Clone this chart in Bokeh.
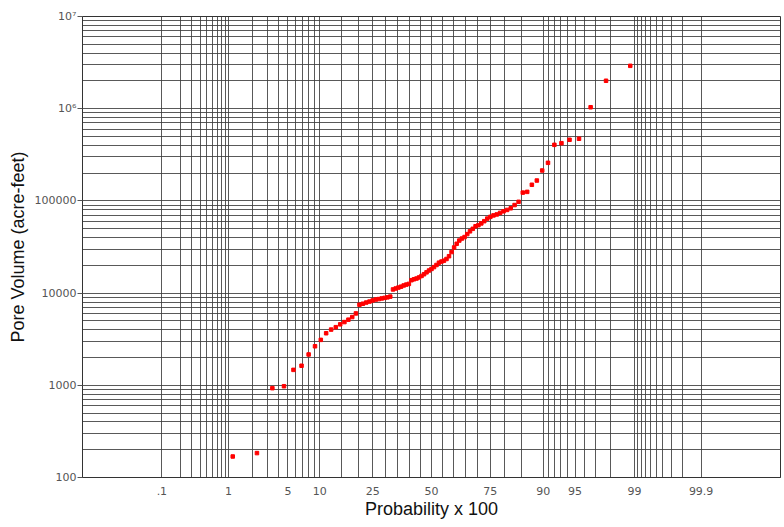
from statistics import NormalDist
from bokeh.plotting import figure
from bokeh.models import FixedTicker, CustomJSTickFormatter, Range1d
from bokeh.embed import file_html
from bokeh.resources import INLINE

# Pore volume (acre-feet), sorted ascending
pore_volume = [
    169, 184, 931, 977, 1470, 1630, 2160, 2650, 3110, 3670,
    4020, 4270, 4580, 4850, 5150, 5500, 6020, 7480, 7670, 7900,
    8090, 8320, 8510, 8610, 8750, 8870, 8990, 9160, 10960, 11220,
    11480, 11750, 12100, 12360, 12590, 13800, 14130, 14390, 14790, 15350,
    16030, 16790, 17580, 18280, 19140, 20180, 21380, 21980, 22490, 23440,
    25120, 27860, 31260, 34280, 37150, 39080, 40550, 43650, 46770, 49770,
    53090, 54580, 57020, 60260, 64270, 67140, 69660, 71290, 74130, 77090,
    79800, 83180, 90160, 97720, 123000, 125300, 149600, 166300, 213800, 258800,
    405500, 422700, 460300, 472000, 1037000, 2009000, 2917000,
]

# probability grid (percent) and labelled probabilities
grid_probs = [0.1, 0.2, 0.3, 0.4, 0.5, 0.6, 0.7, 0.8, 0.9,
              1, 2, 3, 4, 5, 6, 7, 8, 9, 10,
              15, 20, 25, 30, 35, 40, 45, 50, 55, 60, 65, 70, 75, 80, 85,
              90, 91, 92, 93, 94, 95, 96, 97, 98, 99,
              99.1, 99.2, 99.3, 99.4, 99.5, 99.6, 99.7, 99.8, 99.9]
label_probs = [0.1, 1, 5, 10, 25, 50, 75, 90, 95, 99, 99.9]
label_texts = [".1", "1", "5", "10", "25", "50", "75", "90", "95", "99", "99.9"]

y_major = [1e2, 1e3, 1e4, 1e5, 1e6, 1e7]
y_labels = ["100", "1000", "10000", "100000", "10\u2076", "10\u2077"]
y_minor = [m * d for d in [1e2, 1e3, 1e4, 1e5, 1e6] for m in range(2, 10)]

nd = NormalDist()
n = len(pore_volume)
# Weibull plotting positions i/(n+1), transformed to normal quantiles
zpos = [nd.inv_cdf(i / (n + 1)) for i in range(1, n + 1)]
grid_z = [nd.inv_cdf(pp / 100.0) for pp in grid_probs]
all_labels = []
for pp in grid_probs:
    all_labels.append(label_texts[label_probs.index(pp)] if pp in label_probs else "")

p = figure(width=782, height=521, output_backend="svg", toolbar_location=None,
           y_axis_type="log",
           x_range=Range1d(-4.0, 4.0), y_range=Range1d(100, 1e7),
           min_border_left=82, min_border_right=2, min_border_top=16, min_border_bottom=40)
p.background_fill_color = "white"
p.border_fill_color = "white"
p.outline_line_color = "#333333"

xt = FixedTicker(ticks=grid_z)
p.xaxis.ticker = xt
p.xgrid.ticker = xt
p.xaxis.formatter = CustomJSTickFormatter(args=dict(zs=grid_z, labels=all_labels), code="""
for (let i = 0; i < zs.length; i++) { if (Math.abs(zs[i] - tick) < 1e-6) return labels[i]; }
return '';
""")
yt = FixedTicker(ticks=y_major, minor_ticks=y_minor)
p.yaxis.ticker = yt
p.ygrid.ticker = yt
p.yaxis.formatter = CustomJSTickFormatter(args=dict(vals=y_major, labels=y_labels), code="""
for (let i = 0; i < vals.length; i++) { if (Math.abs(vals[i] - tick) / vals[i] < 1e-6) return labels[i]; }
return '';
""")

for g in (p.xgrid, p.ygrid):
    g.grid_line_color = "#3c3c3c"
    g.grid_line_alpha = 0.85
    g.grid_line_width = 1
p.ygrid.minor_grid_line_color = "#3c3c3c"
p.ygrid.minor_grid_line_alpha = 0.85

for ax in (p.xaxis, p.yaxis):
    ax.axis_line_color = "#333333"
    ax.major_label_text_font = "DejaVu Sans"
    ax.major_label_text_font_size = "11px"
    ax.major_label_text_color = "#555555"
    ax.minor_tick_in = 0
    ax.minor_tick_out = 0
    ax.major_tick_in = 0
    ax.axis_label_text_font = "Liberation Sans"
    ax.axis_label_text_font_size = "18px"
    ax.axis_label_text_font_style = "normal"
    ax.axis_label_text_color = "#111111"

p.xaxis.major_tick_out = 0
p.xaxis.major_label_standoff = 9
p.xaxis.axis_label = "Probability x 100"
p.xaxis.axis_label_standoff = 1
p.yaxis.major_tick_out = 5
p.yaxis.major_tick_line_color = "#555555"
p.yaxis.major_label_standoff = 1
p.yaxis.axis_label = "Pore Volume (acre-feet)"
p.yaxis.axis_label_standoff = 4

p.scatter(zpos, pore_volume, marker="square", size=3.5, color="#ff0000", line_color="#ff0000")

open("out.html", "w").write(file_html(p, INLINE))
